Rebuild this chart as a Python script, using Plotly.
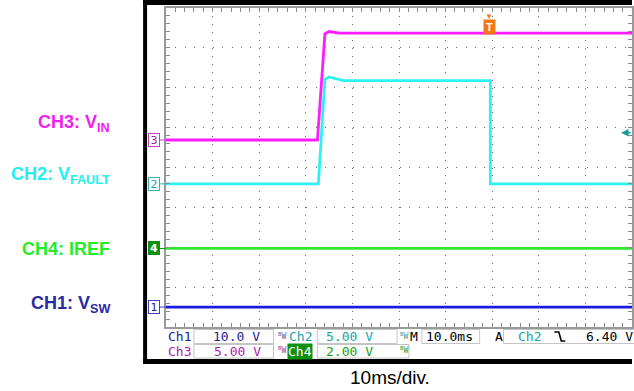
import plotly.graph_objects as go

# ---------------- data (scope capture, 10 ms/div) ----------------
time_range_ms = [0, 100]          # 10 divisions x 10 ms
div_range = [0, 8]                # 8 vertical divisions

ch1_t = [0, 100]
ch1_v = [0.0, 0.0]
ch2_t = [0, 32.7, 34.1, 35.0, 38.0, 69.6, 69.6, 100]
ch2_v = [0.0, 0.0, 13.1, 13.4, 12.95, 12.95, 0.0, 0.0]
ch3_t = [0, 32.5, 34.1, 35.0, 37.2, 100]
ch3_v = [0.0, 0.0, 13.3, 13.6, 13.4, 13.4]
ch4_t = [0, 100]
ch4_v = [0.0, 0.0]

volts_per_div = {"CH1": 10.0, "CH2": 5.0, "CH3": 5.0, "CH4": 2.0}
ground_div = {"CH1": 0.50, "CH2": 3.59, "CH3": 4.69, "CH4": 1.97}
trace_colors = {"CH1": "#1a1ae0", "CH2": "#2cf2f2", "CH3": "#ff1aff", "CH4": "#2ee82e"}
label_colors = {"CH1": "#2a2aa0", "CH2": "#22f0f0", "CH3": "#f020f0", "CH4": "#22ee22"}
label_texts = {"CH3": "CH3: V<sub>IN</sub>", "CH2": "CH2: V<sub>FAULT</sub>",
               "CH4": "CH4: IREF", "CH1": "CH1: V<sub>SW</sub>"}
trigger_time_ms = 69.4
trigger_level_v = 6.40
time_per_div_label = "10ms/div."

# ---------------- geometry ----------------
W, H = 634, 391
L, R, T, B = 166, 0, 8, 64
PW, PH = W - L - R, H - T - B


def px(x):
    return (x - L) / PW


def py(y):
    return (H - B - y) / PH


def to_div(ch, volts):
    return [ground_div[ch] + v / volts_per_div[ch] for v in volts]


fig = go.Figure()
series = {"CH1": (ch1_t, ch1_v), "CH4": (ch4_t, ch4_v),
          "CH2": (ch2_t, ch2_v), "CH3": (ch3_t, ch3_v)}
for ch, (t, v) in series.items():
    fig.add_trace(go.Scatter(x=t, y=to_div(ch, v), mode="lines",
                             line=dict(color=trace_colors[ch], width=2.8),
                             hoverinfo="skip", showlegend=False))

grid_col = "#6a6a6a"
tick_col = "#8a8a8a"
fig.update_layout(
    width=W, height=H, margin=dict(l=L, r=R, t=T, b=B),
    paper_bgcolor="white", plot_bgcolor="white", hovermode=False,
    xaxis=dict(range=time_range_ms, dtick=10, tick0=0, showticklabels=False,
               showgrid=True, gridcolor=grid_col, gridwidth=1, griddash="1px,6.975px",
               zeroline=False, showline=True, linecolor="#9a9a9a", linewidth=2, mirror="allticks",
               ticks="inside", ticklen=4, tickcolor=tick_col,
               minor=dict(ticks="inside", dtick=2, ticklen=4, tickcolor=tick_col, showgrid=False)),
    yaxis=dict(range=div_range, dtick=1, tick0=0, showticklabels=False,
               showgrid=True, gridcolor=grid_col, gridwidth=1, griddash="1px,8.36px",
               zeroline=False, showline=True, linecolor="#9a9a9a", linewidth=2, mirror="allticks",
               ticks="inside", ticklen=4, tickcolor=tick_col,
               minor=dict(ticks="inside", dtick=0.2, ticklen=4, tickcolor=tick_col, showgrid=False)),
)
# centre-cross tick marks
for name, side in (("xaxis2", "bottom"), ("xaxis3", "top")):
    fig.layout[name] = dict(overlaying="x", anchor="free", position=0.5, side=side,
                            range=time_range_ms, dtick=10, showticklabels=False, showgrid=False,
                            zeroline=False, showline=False, ticks="outside", ticklen=2,
                            tickcolor=tick_col,
                            minor=dict(ticks="outside", dtick=2, ticklen=2, tickcolor=tick_col))
for name, side in (("yaxis2", "left"), ("yaxis3", "right")):
    fig.layout[name] = dict(overlaying="y", anchor="free", position=0.5, side=side,
                            range=div_range, dtick=1, showticklabels=False, showgrid=False,
                            zeroline=False, showline=False, ticks="outside", ticklen=2,
                            tickcolor=tick_col,
                            minor=dict(ticks="outside", dtick=0.2, ticklen=2, tickcolor=tick_col))

shapes = []
# black scope frame
for x0, y0, x1, y1 in ((143, 0, 634, 5), (143, 0, 147, 364), (143, 359, 634, 364)):
    shapes.append(dict(type="rect", xref="paper", yref="paper", x0=px(x0), x1=px(x1),
                       y0=py(y1), y1=py(y0), fillcolor="black", line=dict(width=0), layer="above"))
# readout boxes
box_col = "#c4c4c4"
for x0, y0, x1, y1 in ((194, 329.5, 274, 343.5), (194, 344.5, 274, 358),
                       (318, 329.5, 398, 343.5), (318, 344.5, 410, 358),
                       (423, 329.5, 481, 343.5), (505, 329.5, 640, 343.5)):
    shapes.append(dict(type="rect", xref="paper", yref="paper", x0=px(x0), x1=px(x1),
                       y0=py(y1), y1=py(y0), line=dict(color=box_col, width=1)))
# falling-edge symbol
shapes.append(dict(type="path", xref="paper", yref="paper",
                   path="M %f,%f L %f,%f L %f,%f L %f,%f" % (px(556), py(332), px(560.5), py(332),
                                                             px(563), py(341), px(567), py(341)),
                   line=dict(color="black", width=1.6)))
fig.update_layout(shapes=shapes)

ann = []


def txt(x, y, s, color, size=13, anchor="left", family="DejaVu Sans Mono", **kw):
    ann.append(dict(x=px(x), y=py(y), xref="paper", yref="paper", text=s, showarrow=False,
                    xanchor=anchor, yanchor="middle",
                    font=dict(family=family, size=size, color=color), **kw))


# left channel labels
label_y = {"CH3": 123, "CH2": 175, "CH4": 249, "CH1": 304}
for ch, yy in label_y.items():
    txt(112, yy, "<b>" + label_texts[ch] + "</b>", label_colors[ch], size=18, anchor="right",
        family="Arial, Liberation Sans, sans-serif")

# readout text
r1, r2 = 336.5, 351
c1, c2, c3, c4 = "#1c1c9c", "#1aa4a4", "#b020b0", "#18a018"
txt(166, r1, "Ch1", c1)
txt(211, r1, "10.0 V", c1)
txt(276, r1 - 1, "<sup>B</sup>W", "#6060b0", size=8)
txt(288, r1, "Ch2", c2)
txt(325, r1, "5.00 V", c2)
txt(399, r1 - 1, "<sup>B</sup>W", "#40a0a0", size=8)
txt(409, r1, "M", "black")
txt(425, r1, "10.0ms", "black")
txt(494, r1, "A", "black")
txt(517, r1, "Ch2", c2)
txt(586, r1, "6.40 V", "black")
txt(166, r2, "Ch3", c3)
txt(212, r2, "5.00 V", c3)
txt(276, r2 - 1, "<sup>B</sup>W", "#a040a0", size=8)
txt(288, r2, "Ch4", "white", bgcolor="#109010", borderpad=0)
txt(325, r2, "2.00 V", c4)
txt(399, r2 - 1, "<sup>B</sup>W", "#30a030", size=8)

# bottom caption
txt(391, 377, time_per_div_label, "black", size=19, anchor="center",
    family="Arial, Liberation Sans, sans-serif")

# channel ground markers
marker_style = {"CH3": ("#a020a0", "white", "#c040c0"), "CH2": ("#20a0a0", "white", "#40b0b0"),
                "CH4": ("white", "#109010", "#109010"), "CH1": ("#2020a0", "white", "#4040c0")}
for ch, num in (("CH3", "3"), ("CH2", "2"), ("CH4", "4"), ("CH1", "1")):
    fc, bg, bc = marker_style[ch]
    ann.append(dict(x=0, y=ground_div[ch], xref="x domain", yref="y", text="<b>" + num + "</b>"
                    if ch == "CH4" else num,
                    showarrow=True, ax=-12, ay=0, arrowhead=0, arrowwidth=1, arrowcolor=bc,
                    standoff=0, width=10, height=12, bgcolor=bg, bordercolor=bc, borderwidth=1,
                    borderpad=0, font=dict(family="DejaVu Sans", size=11, color=fc)))

# trigger position marker
ann.append(dict(x=trigger_time_ms, y=py(19), xref="x", yref="paper", text="<b>T</b>",
                showarrow=False, bgcolor="#f07818", borderpad=1, width=9, height=12,
                font=dict(family="Arial, Liberation Sans", size=11, color="white")))
ann.append(dict(x=trigger_time_ms, y=py(8), xref="x", yref="paper", text="▼",
                showarrow=False, font=dict(size=8, color="#f07818")))
# trigger level marker
ann.append(dict(x=px(623), y=ground_div["CH2"] + trigger_level_v / volts_per_div["CH2"],
                xref="paper", yref="y", text="", showarrow=True, ax=11, ay=0,
                arrowhead=2, arrowsize=1, arrowwidth=1.5, arrowcolor="#1a9a9a"))

fig.update_layout(annotations=ann)
fig.write_html("out.html", config={"displayModeBar": False},
               post_script="document.body.style.margin='0';document.body.style.overflow='hidden';")
